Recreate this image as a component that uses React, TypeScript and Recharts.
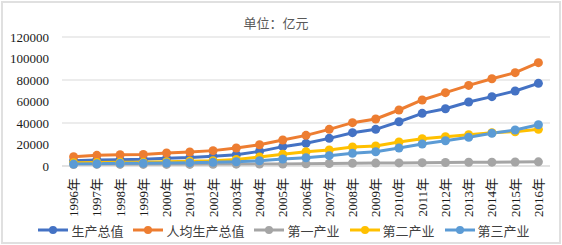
import { LineChart, Line, XAxis, YAxis, CartesianGrid, Legend } from 'recharts';

const years = [
  '1996年', '1997年', '1998年', '1999年', '2000年', '2001年', '2002年',
  '2003年', '2004年', '2005年', '2006年', '2007年', '2008年', '2009年',
  '2010年', '2011年', '2012年', '2013年', '2014年', '2015年', '2016年',
];

const gdp = [
  4900, 5600, 5900, 6200, 7100, 7800, 9000, 10500, 13600, 18000, 21100,
  25700, 31000, 34100, 41200, 49000, 53300, 59500, 64500, 69800, 76900,
];
const gdpPerCapita = [
  8700, 9900, 10500, 10800, 12100, 13000, 14300, 16700, 19800, 24200, 28500,
  34100, 40300, 43700, 52100, 61400, 68200, 75000, 81200, 86800, 96100,
];
const primary = [
  1400, 1500, 1500, 1500, 1500, 1500, 1600, 1700, 1800, 1900, 2000,
  2300, 2600, 2700, 2900, 3100, 3300, 3500, 3600, 3700, 3900,
];
const secondary = [
  3100, 3300, 3500, 3600, 4000, 4500, 5000, 6000, 8400, 11000, 13300,
  14900, 17700, 18600, 22300, 25400, 27300, 29100, 31000, 31900, 34100,
];
const tertiary = [
  1800, 2100, 2500, 2600, 2800, 3100, 3400, 4000, 4900, 6500, 7700,
  9600, 11800, 13300, 16700, 20500, 23500, 26700, 30400, 33500, 38400,
];

const yTicks = [0, 20000, 40000, 60000, 80000, 100000, 120000];

const series = [
  { key: 'gdp', name: '生产总值', color: '#4472C4' },
  { key: 'perCapita', name: '人均生产总值', color: '#ED7D31' },
  { key: 'primary', name: '第一产业', color: '#A5A5A5' },
  { key: 'secondary', name: '第二产业', color: '#FFC000' },
  { key: 'tertiary', name: '第三产业', color: '#5B9BD5' },
];

const data = years.map((year, i) => ({
  year,
  gdp: gdp[i],
  perCapita: gdpPerCapita[i],
  primary: primary[i],
  secondary: secondary[i],
  tertiary: tertiary[i],
}));

const FONT = "'Liberation Serif', 'Times New Roman', 'Noto Sans CJK SC', serif";

function YearTick({ x, y, payload }: any) {
  return (
    <text
      transform={`translate(${x},${y + 10}) rotate(-90)`}
      textAnchor='end'
      dominantBaseline='central'
      fontSize={13}
      fontFamily={FONT}
      fill='#1a1a1a'
    >
      {payload.value}
    </text>
  );
}

function LegendRow() {
  return (
    <div
      style={{
        display: 'flex',
        justifyContent: 'center',
        alignItems: 'center',
        height: 18,
        paddingLeft: 16,
        fontFamily: FONT,
        fontSize: 13,
        color: '#404040',
      }}
    >
      {series.map((s) => (
        <div key={s.key} style={{ display: 'flex', alignItems: 'center', marginRight: 10 }}>
          <svg width={30} height={10} style={{ marginRight: 3 }}>
            <line x1={0} y1={5} x2={30} y2={5} stroke={s.color} strokeWidth={3} />
            <circle cx={15} cy={5} r={4} fill={s.color} />
          </svg>
          <span>{s.name}</span>
        </div>
      ))}
    </div>
  );
}

export default function App() {
  return (
    <div style={{ position: 'absolute', left: 0, top: 0, width: 562, height: 245, background: '#fff' }}>
      <div
        style={{
          position: 'absolute',
          left: 1,
          top: 1,
          width: 556,
          height: 239,
          border: '2px solid #e0e0e0',
        }}
      />
      <div
        style={{
          position: 'absolute',
          left: 0,
          top: 13,
          width: 552,
          textAlign: 'center',
          fontFamily: "'Noto Sans CJK SC', sans-serif",
          fontSize: 13,
          color: '#595959',
        }}
      >
        单位：亿元
      </div>
      <LineChart
        width={562}
        height={245}
        data={data}
        margin={{ top: 37, right: 12, left: 0, bottom: 6 }}
      >
        <CartesianGrid vertical={false} stroke='#d9d9d9' strokeWidth={1} />
        <XAxis
          dataKey='year'
          interval={0}
          height={55}
          tickLine={false}
          tickSize={0}
          axisLine={{ stroke: '#d9d9d9' }}
          padding={{ left: 11.6, right: 11.6 }}
          tick={<YearTick />}
        />
        <YAxis
          width={62}
          domain={[0, 120000]}
          ticks={yTicks}
          axisLine={false}
          tickLine={false}
          tickSize={0}
          tickMargin={13}
          tick={{ fontSize: 13, fontFamily: FONT, fill: '#1a1a1a' }}
        />
        <Legend
          verticalAlign='bottom'
          content={<LegendRow />}
          wrapperStyle={{ left: 0, width: 562, height: 18 }}
        />
        {series.map((s) => (
          <Line
            key={s.key}
            dataKey={s.key}
            name={s.name}
            type='linear'
            stroke={s.color}
            strokeWidth={3}
            dot={{ r: 4.5, fill: s.color, stroke: s.color, strokeWidth: 0 }}
            activeDot={false}
            isAnimationActive={false}
          />
        ))}
      </LineChart>
    </div>
  );
}
